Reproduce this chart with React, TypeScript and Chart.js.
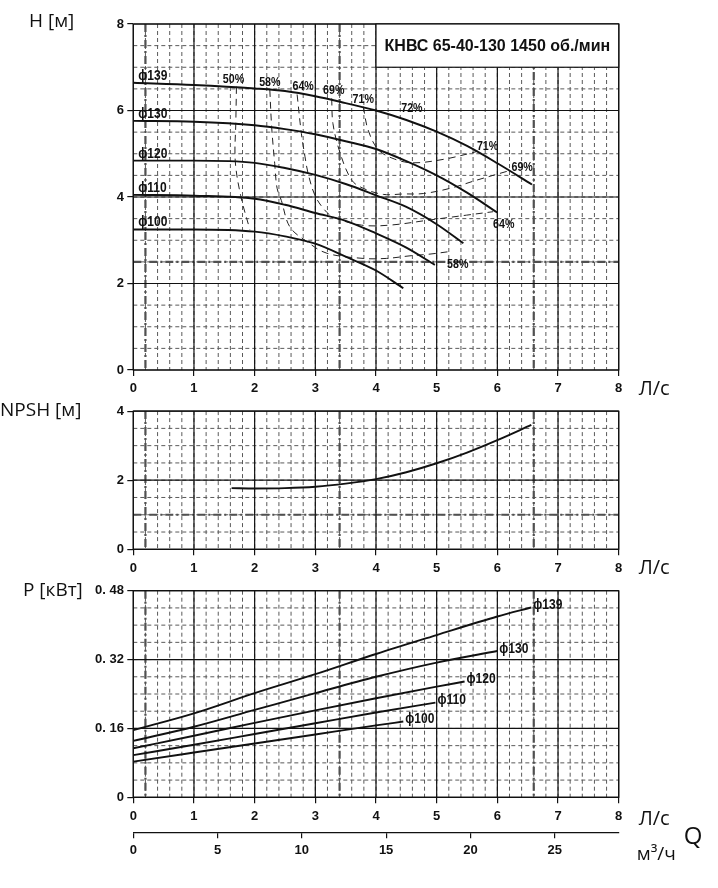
import React, { useEffect, useRef } from "react";
import { Chart, registerables } from "chart.js";

Chart.register(...registerables);

// ---------------- axis ticks ----------------
const Q_TICKS = [0, 1, 2, 3, 4, 5, 6, 7, 8];
const QM3_TICKS = [0, 5, 10, 15, 20, 25];
const H_TICKS = [0, 2, 4, 6, 8];
const NPSH_TICKS = [0, 2, 4];
const P_TICKS = [0, 0.16, 0.32, 0.48];
const P_TICK_LABELS = ["0", "0. 16", "0. 32", "0. 48"];
const DIAMETERS = ["ϕ139", "ϕ130", "ϕ120", "ϕ110", "ϕ100"];
const TITLE = "КНВС 65-40-130 1450 об./мин";

// ---------------- H(Q) curves ----------------
const Q_H139 = [0, 1, 2, 2.5, 3, 3.5, 4, 4.5, 5, 5.5, 6, 6.57];
const H_139 = [6.64, 6.59, 6.51, 6.45, 6.33, 6.17, 6.0, 5.78, 5.51, 5.18, 4.78, 4.29];
const Q_H130 = [0, 1, 2, 2.5, 3, 3.5, 4, 4.5, 5, 5.5, 6];
const H_130 = [5.76, 5.74, 5.66, 5.57, 5.45, 5.29, 5.11, 4.83, 4.5, 4.1, 3.64];
const Q_H120 = [0, 1, 2, 2.5, 3, 3.5, 4, 4.5, 5, 5.44];
const H_120 = [4.84, 4.84, 4.79, 4.67, 4.51, 4.3, 4.04, 3.77, 3.37, 2.93];
const Q_H110 = [0, 1, 2, 2.5, 3, 3.5, 4, 4.5, 4.97];
const H_110 = [4.05, 4.03, 3.96, 3.82, 3.63, 3.45, 3.16, 2.83, 2.43];
const Q_H100 = [0, 1, 2, 2.5, 3, 3.5, 4, 4.45];
const H_100 = [3.25, 3.25, 3.2, 3.09, 2.92, 2.62, 2.3, 1.89];

// ---------------- efficiency iso-lines ----------------
const EFF_TOP = ["50%", "58%", "64%", "69%", "71%"];
const EFF_END = ["", "58%", "64%", "69%", "71%"];
const BEP_LABEL = "72%";
const BEP_Q = 4.35;
const Q_E50 = [1.7, 1.69, 1.68, 1.77, 1.92];
const H_E50 = [6.55, 5.74, 4.84, 4.03, 3.25];
const Q_E58 = [2.25, 2.28, 2.33, 2.37, 2.44, 2.58, 2.86, 3.19, 3.79, 4.17, 4.56, 4.89, 5.22];
const H_E58 = [6.48, 5.63, 4.78, 4.2, 3.92, 3.31, 2.97, 2.7, 2.58, 2.58, 2.64, 2.68, 2.74];
const Q_E64 = [2.7, 2.77, 2.83, 2.88, 2.99, 3.13, 3.29, 3.76, 4.23, 4.89, 5.49, 5.93];
const H_E64 = [6.37, 5.47, 4.93, 4.55, 4.05, 3.74, 3.54, 3.35, 3.35, 3.47, 3.58, 3.66];
const Q_E69 = [3.27, 3.29, 3.41, 3.6, 3.79, 4.12, 4.45, 4.78, 5.22, 5.66, 6.2];
const H_E69 = [6.28, 5.7, 5.01, 4.39, 4.2, 4.06, 4.07, 4.08, 4.2, 4.39, 4.61];
const Q_E71 = [3.79, 3.87, 4.04, 4.3, 4.61, 5.11, 5.55, 5.68];
const H_E71 = [6.09, 5.55, 5.09, 4.88, 4.79, 4.87, 5.01, 5.06];

// ---------------- NPSH ----------------
const Q_NPSH = [1.62, 2, 2.5, 3, 3.5, 4, 4.5, 5, 5.5, 6, 6.56];
const NPSH = [1.77, 1.76, 1.77, 1.81, 1.9, 2.03, 2.23, 2.49, 2.8, 3.16, 3.6];

// ---------------- Power ----------------
const Q_P139 = [0, 1, 2, 3, 4, 5, 6, 6.56];
const P_139 = [0.156, 0.195, 0.242, 0.286, 0.333, 0.377, 0.42, 0.441];
const Q_P130 = [0, 1, 2, 3, 4, 5, 6];
const P_130 = [0.131, 0.164, 0.203, 0.242, 0.28, 0.313, 0.34];
const Q_P120 = [0, 1, 2, 3, 4, 5, 5.46];
const P_120 = [0.114, 0.143, 0.173, 0.202, 0.23, 0.257, 0.269];
const Q_P110 = [0, 1, 2, 3, 4, 4.98];
const P_110 = [0.098, 0.122, 0.147, 0.172, 0.197, 0.22];
const Q_P100 = [0, 1, 2, 3, 4, 4.45];
const P_100 = [0.083, 0.104, 0.125, 0.146, 0.167, 0.176];

// ---------------- styles ----------------
const SANS = "'Liberation Sans', Arial, sans-serif";
const HUMAN = "'Open Sans', 'Noto Sans', sans-serif";
const INK = "#111";
const TOP_DX = [-3, 0, 6, 2, 0];

const pts = (xs: number[], ys: number[]) => xs.map((x, i) => ({ x, y: ys[i] }));

function curve(label: string, xs: number[], ys: number[]) {
  return {
    label,
    data: pts(xs, ys),
    borderColor: INK,
    borderWidth: 1.9,
    pointRadius: 0,
    fill: false,
    cubicInterpolationMode: "monotone",
    xAxisID: "x",
    yAxisID: "y",
  };
}
function contour(label: string, xs: number[], ys: number[]) {
  return {
    label,
    data: pts(xs, ys),
    borderColor: "#222",
    borderWidth: 1,
    borderDash: [7, 5],
    pointRadius: 0,
    fill: false,
    tension: 0.35,
    xAxisID: "x",
    yAxisID: "y",
  };
}

function txt(
  ctx: CanvasRenderingContext2D,
  s: string,
  x: number,
  y: number,
  font: string,
  align: CanvasTextAlign = "left",
  baseline: CanvasTextBaseline = "middle",
  sx = 1
) {
  ctx.save();
  ctx.font = font;
  ctx.fillStyle = INK;
  ctx.textAlign = align;
  ctx.textBaseline = baseline;
  ctx.translate(x, y);
  ctx.scale(sx, 1);
  ctx.fillText(s, 0, 0);
  ctx.restore();
}

type GridSpec = { xMinor: number; yMinor: number; xMajor: number[]; yMajor: number[]; xThick: number[]; yThick: number[] };

function paper(spec: GridSpec, before?: (c: any) => void, after?: (c: any) => void) {
  return {
    id: "paper",
    beforeDatasetsDraw(chart: any) {
      const { ctx, chartArea: a } = chart;
      const xs = chart.scales.x;
      const ys = chart.scales.y;
      const vline = (v: number) => {
        const p = xs.getPixelForValue(v);
        ctx.beginPath();
        ctx.moveTo(p, a.top);
        ctx.lineTo(p, a.bottom);
        ctx.stroke();
      };
      const hline = (v: number) => {
        const p = ys.getPixelForValue(v);
        ctx.beginPath();
        ctx.moveTo(a.left, p);
        ctx.lineTo(a.right, p);
        ctx.stroke();
      };
      ctx.save();
      ctx.strokeStyle = "#5a5a5a";
      ctx.lineWidth = 1;
      ctx.setLineDash([4, 3]);
      const nx = Math.round((xs.max - xs.min) / spec.xMinor);
      for (let i = 1; i < nx; i++) vline(xs.min + i * spec.xMinor);
      const ny = Math.round((ys.max - ys.min) / spec.yMinor);
      for (let i = 1; i < ny; i++) hline(ys.min + i * spec.yMinor);
      ctx.strokeStyle = "#505050";
      ctx.lineWidth = 2.2;
      ctx.setLineDash([8, 3, 2, 3]);
      spec.xThick.forEach(vline);
      spec.yThick.forEach(hline);
      ctx.setLineDash([]);
      ctx.strokeStyle = INK;
      ctx.lineWidth = 1.2;
      spec.xMajor.forEach(vline);
      spec.yMajor.forEach(hline);
      ctx.strokeRect(a.left, a.top, a.right - a.left, a.bottom - a.top);
      ctx.restore();
      if (before) before(chart);
    },
    afterDraw(chart: any) {
      if (after) after(chart);
    },
  };
}

const tickFont = { family: SANS, size: 13, weight: "bold" as const };

function xScale(h: number) {
  return {
    type: "linear",
    min: 0,
    max: 8,
    position: "bottom",
    weight: 0,
    afterBuildTicks: (s: any) => {
      s.ticks = Q_TICKS.map((v) => ({ value: v }));
    },
    afterFit: (s: any) => {
      s.height = h;
    },
    grid: { display: true, drawOnChartArea: false, drawTicks: true, tickLength: 6, color: INK, lineWidth: 1.2 },
    border: { display: false },
    ticks: { padding: 5, color: INK, font: tickFont, maxRotation: 0, autoSkip: false, callback: (v: any) => String(v) },
  };
}

function yScale(max: number, ticks: number[], labels: string[]) {
  return {
    type: "linear",
    min: 0,
    max,
    position: "left",
    afterBuildTicks: (s: any) => {
      s.ticks = ticks.map((v) => ({ value: v }));
    },
    afterFit: (s: any) => {
      s.width = 133.3;
    },
    grid: { display: true, drawOnChartArea: false, drawTicks: true, tickLength: 6, color: INK, lineWidth: 1.2 },
    border: { display: false },
    ticks: { padding: 3.3, color: INK, font: tickFont, autoSkip: false, callback: (_v: any, i: number) => labels[i] },
  };
}

const basePlugins = { legend: { display: false }, tooltip: { enabled: false } };
const EFF_FONT = `bold 13px ${SANS}`;
const DIA_FONT = `bold 14px ${SANS}`;

function hConfig(): any {
  const spec: GridSpec = { xMinor: 0.2, yMinor: 0.5, xMajor: Q_TICKS, yMajor: H_TICKS, xThick: [0.2, 3.4, 6.6], yThick: [2.5] };
  const contours: [number[], number[]][] = [
    [Q_E50, H_E50],
    [Q_E58, H_E58],
    [Q_E64, H_E64],
    [Q_E69, H_E69],
    [Q_E71, H_E71],
  ];
  const curves: [number[], number[]][] = [
    [Q_H139, H_139],
    [Q_H130, H_130],
    [Q_H120, H_120],
    [Q_H110, H_110],
    [Q_H100, H_100],
  ];
  const before = (chart: any) => {
    const { ctx, chartArea: a } = chart;
    const xs = chart.scales.x;
    const ys = chart.scales.y;
    const x0 = xs.getPixelForValue(4);
    const y1 = ys.getPixelForValue(7);
    ctx.save();
    ctx.fillStyle = "#fff";
    ctx.fillRect(x0, a.top, a.right - x0, y1 - a.top);
    ctx.strokeStyle = INK;
    ctx.lineWidth = 1.2;
    ctx.strokeRect(x0, a.top, a.right - x0, y1 - a.top);
    ctx.restore();
    txt(ctx, TITLE, (x0 + a.right) / 2, (a.top + y1) / 2 + 1, `bold 16px ${SANS}`, "center");
  };
  const after = (chart: any) => {
    const { ctx, chartArea: a } = chart;
    const xs = chart.scales.x;
    const ys = chart.scales.y;
    txt(ctx, "H [м]", 29, 22, `19px ${HUMAN}`);
    txt(ctx, "Л/с", a.right + 20, a.bottom + 19, `20px ${HUMAN}`);
    curves.forEach(([, h], i) => {
      txt(ctx, DIAMETERS[i], a.left + 5, ys.getPixelForValue(h[0]) - 3, DIA_FONT, "left", "alphabetic", 0.86);
    });
    contours.forEach(([q, h], i) => {
      const sx = xs.getPixelForValue(q[0]);
      const sy = ys.getPixelForValue(h[0]);
      txt(ctx, EFF_TOP[i], sx + TOP_DX[i], sy - 4, EFF_FONT, "center", "alphabetic", 0.82);
    });
    const end = (i: number) => {
      const [q, h] = contours[i];
      return [xs.getPixelForValue(q[q.length - 1]), ys.getPixelForValue(h[h.length - 1])];
    };
    let [ex, ey] = end(4);
    txt(ctx, EFF_END[4], ex - 1, ey - 1, EFF_FONT, "left", "alphabetic", 0.82);
    [ex, ey] = end(3);
    txt(ctx, EFF_END[3], ex + 2, ey, EFF_FONT, "left", "alphabetic", 0.82);
    [ex, ey] = end(2);
    txt(ctx, EFF_END[2], ex, ey + 13, EFF_FONT, "left", "middle", 0.82);
    [ex, ey] = end(1);
    txt(ctx, EFF_END[1], ex - 3, ey + 12.5, EFF_FONT, "left", "middle", 0.82);
    let k = 0;
    while (k < Q_H139.length - 2 && Q_H139[k + 1] < BEP_Q) k++;
    const t = (BEP_Q - Q_H139[k]) / (Q_H139[k + 1] - Q_H139[k]);
    const hb = H_139[k] + t * (H_139[k + 1] - H_139[k]);
    txt(ctx, BEP_LABEL, xs.getPixelForValue(BEP_Q) + 4, ys.getPixelForValue(hb) - 5, EFF_FONT, "left", "alphabetic", 0.82);
  };
  return {
    type: "line",
    data: {
      datasets: [
        ...curves.map(([q, h], i) => curve(DIAMETERS[i], q, h)),
        ...contours.map(([q, h], i) => contour(EFF_TOP[i], q, h)),
      ],
    },
    options: {
      animation: false,
      responsive: true,
      maintainAspectRatio: false,
      layout: { padding: { left: 0, right: 99.3, top: 24, bottom: 0 } },
      scales: { x: xScale(30), y: yScale(8, H_TICKS, H_TICKS.map(String)) },
      plugins: basePlugins,
    },
    plugins: [paper(spec, before, after)],
  };
}

function npshConfig(): any {
  const spec: GridSpec = { xMinor: 0.2, yMinor: 0.5, xMajor: Q_TICKS, yMajor: NPSH_TICKS, xThick: [0.2, 3.4, 6.6], yThick: [1] };
  const after = (chart: any) => {
    const { ctx, chartArea: a } = chart;
    txt(ctx, "NPSH [м]", 0, a.top - 1, `19px ${HUMAN}`);
    txt(ctx, "Л/с", a.right + 20, a.bottom + 19, `20px ${HUMAN}`);
  };
  return {
    type: "line",
    data: { datasets: [curve("NPSH", Q_NPSH, NPSH)] },
    options: {
      animation: false,
      responsive: true,
      maintainAspectRatio: false,
      layout: { padding: { left: 0, right: 99.3, top: 11, bottom: 0 } },
      scales: { x: xScale(28.7), y: yScale(4, NPSH_TICKS, NPSH_TICKS.map(String)) },
      plugins: basePlugins,
    },
    plugins: [paper(spec, undefined, after)],
  };
}

function pConfig(): any {
  const spec: GridSpec = { xMinor: 0.2, yMinor: 0.04, xMajor: Q_TICKS, yMajor: P_TICKS, xThick: [0.2, 3.4, 6.6], yThick: [] };
  const curves: [number[], number[]][] = [
    [Q_P139, P_139],
    [Q_P130, P_130],
    [Q_P120, P_120],
    [Q_P110, P_110],
    [Q_P100, P_100],
  ];
  const after = (chart: any) => {
    const { ctx, chartArea: a } = chart;
    const xs = chart.scales.x;
    const ys = chart.scales.y;
    txt(ctx, "P [кВт]", 23, a.top, `19px ${HUMAN}`);
    txt(ctx, "Л/с", a.right + 20, a.bottom + 22, `20px ${HUMAN}`);
    txt(ctx, "Q", a.right + 65, a.bottom + 40, `24px ${HUMAN}`);
    txt(ctx, "м³/ч", a.right + 18, a.bottom + 57, `19px ${HUMAN}`);
    curves.forEach(([q, p], i) => {
      const ex = xs.getPixelForValue(q[q.length - 1]);
      const ey = ys.getPixelForValue(p[p.length - 1]);
      txt(ctx, DIAMETERS[i], ex + 2, ey - 2, DIA_FONT, "left", "middle", 0.86);
    });
  };
  return {
    type: "line",
    data: { datasets: curves.map(([q, p], i) => curve(DIAMETERS[i], q, p)) },
    options: {
      animation: false,
      responsive: true,
      maintainAspectRatio: false,
      layout: { padding: { left: 0, right: 99.3, top: 12.7, bottom: 15.7 } },
      scales: {
        x: xScale(35),
        x2: {
          type: "linear",
          min: 0,
          max: 28.8,
          position: "bottom",
          weight: 1,
          afterBuildTicks: (s: any) => {
            s.ticks = QM3_TICKS.map((v) => ({ value: v }));
          },
          afterFit: (s: any) => {
            s.height = 40;
          },
          grid: { display: true, drawOnChartArea: false, drawTicks: true, tickLength: 6, color: INK, lineWidth: 1.2 },
          border: { display: true, color: INK, width: 1.2 },
          ticks: { padding: 4.8, color: INK, font: tickFont, maxRotation: 0, autoSkip: false, callback: (v: any) => String(v) },
        },
        y: yScale(0.48, P_TICKS, P_TICK_LABELS),
      },
      plugins: basePlugins,
    },
    plugins: [paper(spec, undefined, after)],
  };
}

function Panel({ top, height, make }: { top: number; height: number; make: () => any }) {
  const ref = useRef<HTMLCanvasElement>(null);
  useEffect(() => {
    const chart = new Chart(ref.current as HTMLCanvasElement, make());
    return () => chart.destroy();
  }, []);
  return (
    <div style={{ position: "absolute", left: 0, top, width: 718, height }}>
      <canvas ref={ref} />
    </div>
  );
}

export default function App() {
  return (
    <div style={{ position: "absolute", left: 0, top: 0, width: 718, height: 888, background: "#fff" }}>
      <Panel top={0} height={400} make={hConfig} />
      <Panel top={400} height={178} make={npshConfig} />
      <Panel top={578} height={310} make={pConfig} />
    </div>
  );
}
